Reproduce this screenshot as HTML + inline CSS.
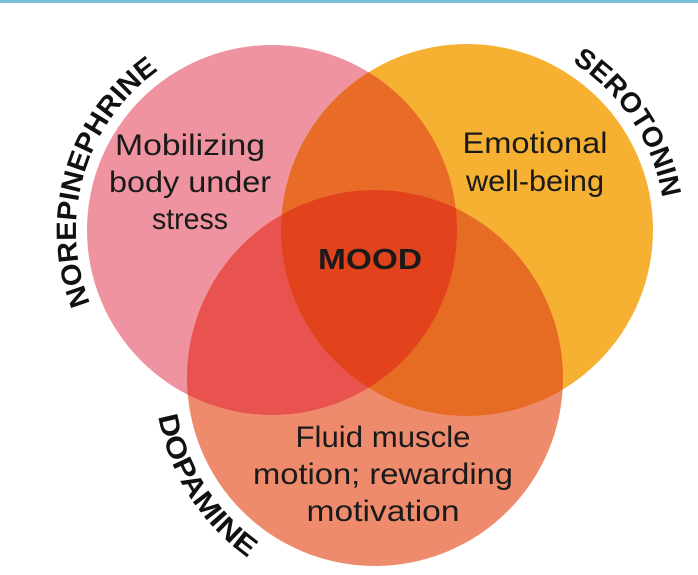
<!DOCTYPE html>
<html><head><style>
html,body{margin:0;padding:0;background:#fff;width:698px;height:575px;overflow:hidden}
svg text{font-family:"Liberation Sans",sans-serif}
</style></head><body>
<svg width="698" height="575" viewBox="0 0 698 575" xmlns="http://www.w3.org/2000/svg">
<defs>
<clipPath id="cp"><circle cx="272" cy="230" r="185"/></clipPath>
<clipPath id="co"><circle cx="467" cy="230" r="186"/></clipPath>
<clipPath id="cd"><circle cx="375" cy="378" r="188"/></clipPath>
<path id="pn" d="M90.3,303.5 A196,196 0 0 1 174,60.3"/>
<path id="ps" d="M572,62.1 A198,198 0 0 1 664.2,212.7"/>
<path id="pd" d="M158.3,416.2 A220,220 0 0 0 258.4,564.6"/>
</defs>
<rect x="0" y="0" width="698" height="3" fill="#7cc1d8"/>
<circle cx="272" cy="230" r="185" fill="#ee939f"/>
<circle cx="467" cy="230" r="186" fill="#f6b133"/>
<circle cx="375" cy="378" r="188" fill="#ee8b6c"/>
<circle cx="467" cy="230" r="186" fill="#e86b27" clip-path="url(#cp)"/>
<circle cx="375" cy="378" r="188" fill="#e8524f" clip-path="url(#cp)"/>
<circle cx="375" cy="378" r="188" fill="#e66c23" clip-path="url(#co)"/>
<g clip-path="url(#cp)"><circle cx="375" cy="378" r="188" fill="#e2431d" clip-path="url(#co)"/></g>
<g font-size="30" fill="#1a1a1a" text-anchor="middle">
<text x="190" y="155" textLength="150" lengthAdjust="spacingAndGlyphs">Mobilizing</text>
<text x="190" y="192" textLength="162" lengthAdjust="spacingAndGlyphs">body under</text>
<text x="190" y="229" textLength="76" lengthAdjust="spacingAndGlyphs">stress</text>
<text x="535" y="153" textLength="145" lengthAdjust="spacingAndGlyphs">Emotional</text>
<text x="535" y="191" textLength="138" lengthAdjust="spacingAndGlyphs">well-being</text>
<text x="383" y="447" textLength="175" lengthAdjust="spacingAndGlyphs">Fluid muscle</text>
<text x="383" y="484" textLength="260" lengthAdjust="spacingAndGlyphs">motion; rewarding</text>
<text x="383" y="521" textLength="153" lengthAdjust="spacingAndGlyphs">motivation</text>
<text x="370" y="269" font-weight="bold" font-size="29" textLength="104" lengthAdjust="spacingAndGlyphs">MOOD</text>
</g>
<g font-size="28" font-weight="bold" fill="#111">
<text><textPath href="#pn" textLength="262" lengthAdjust="spacingAndGlyphs">NOREPINEPHRINE</textPath></text>
<text><textPath href="#ps" textLength="168" lengthAdjust="spacingAndGlyphs">SEROTONIN</textPath></text>
<text><textPath href="#pd" textLength="172" lengthAdjust="spacingAndGlyphs">DOPAMINE</textPath></text>
</g>
</svg>
</body></html>
